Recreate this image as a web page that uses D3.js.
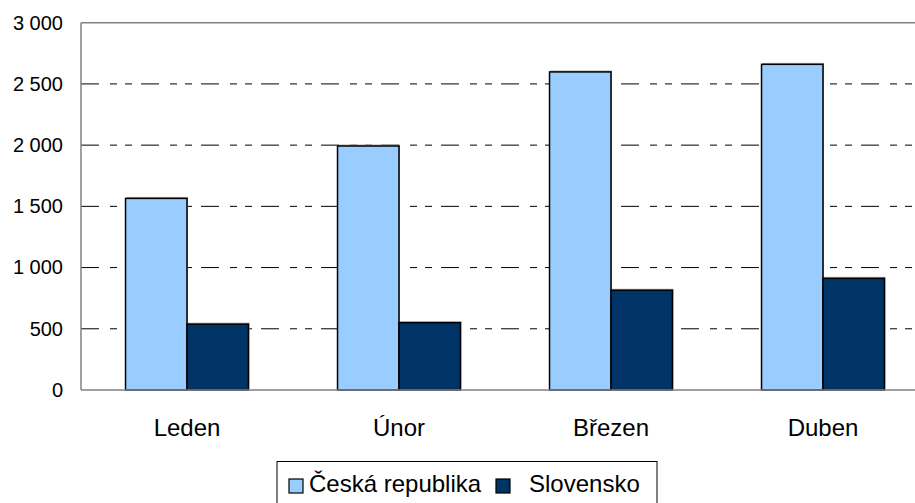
<html>
<head>
<meta charset="utf-8">
<title>Česká republika a Slovensko</title>
<script src="https://cdnjs.cloudflare.com/ajax/libs/d3/7.8.5/d3.min.js"></script>
<style>
body { margin: 0; background: #fff; }
text { font-family: "Liberation Sans", Arial, sans-serif; fill: #000; }
</style>
</head>
<body>
<svg id="chart" width="915" height="503"></svg>
<script>
var months = ['Leden', 'Únor', 'Březen', 'Duben'];
var seriesNames = ['Česká republika', 'Slovensko'];
var czValues = [1565, 1993, 2598, 2660];
var skValues = [538, 550, 815, 912];
var yTicks = [0, 500, 1000, 1500, 2000, 2500, 3000];
var colors = ['#99ccff', '#003366'];

var svg = d3.select('#chart');
var plotLeft = 81, plotRight = 929, plotTop = 22.7, plotBottom = 390;

var x = d3.scaleBand().domain(months).range([plotLeft, plotRight])
    .paddingInner(0.42).paddingOuter(0.21);
var xs = d3.scaleBand().domain(seriesNames).range([0, x.bandwidth()]);
var y = d3.scaleLinear().domain([0, 3000]).range([plotBottom, plotTop]);

var fmt = function (d) { return d3.format(',')(d).replace(',', ' '); };

// grid
svg.append('g').selectAll('line')
    .data(yTicks.filter(function (d) { return d > 0 && d < 3000; }))
    .enter().append('line')
    .attr('x1', plotLeft).attr('x2', plotRight)
    .attr('y1', function (d) { return y(d); })
    .attr('y2', function (d) { return y(d); })
    .attr('stroke', '#000').attr('stroke-width', 1)
    .attr('stroke-dasharray', '18,11,7,8,7,9');

// bars
var rows = months.map(function (m, i) {
    return { month: m, vals: [czValues[i], skValues[i]] };
});
var groups = svg.append('g').selectAll('g').data(rows).enter().append('g')
    .attr('transform', function (d) { return 'translate(' + x(d.month) + ',0)'; });
groups.selectAll('rect.shadow')
    .data(function (d) { return d.vals; })
    .enter().append('rect')
    .attr('class', 'shadow')
    .attr('x', function (d, i) { return xs(seriesNames[i]) + 1; })
    .attr('y', function (d) { return y(d) - 1.5; })
    .attr('width', xs.bandwidth())
    .attr('height', function (d) { return plotBottom - y(d); })
    .attr('fill', '#b0b0b0');
groups.selectAll('rect.bar')
    .data(function (d) { return d.vals; })
    .enter().append('rect')
    .attr('class', 'bar')
    .attr('x', function (d, i) { return xs(seriesNames[i]); })
    .attr('y', function (d) { return y(d); })
    .attr('width', xs.bandwidth())
    .attr('height', function (d) { return plotBottom - y(d); })
    .attr('fill', function (d, i) { return colors[i]; })
    .attr('stroke', '#000').attr('stroke-width', 1.5);

// frame
svg.append('line').attr('x1', plotLeft).attr('x2', 915).attr('y1', plotTop).attr('y2', plotTop)
    .attr('stroke', '#808080').attr('stroke-width', 1.5);
svg.append('line').attr('x1', plotLeft).attr('x2', plotLeft).attr('y1', plotTop).attr('y2', plotBottom)
    .attr('stroke', '#808080').attr('stroke-width', 1.5);
svg.append('line').attr('x1', plotLeft).attr('x2', 915).attr('y1', plotBottom).attr('y2', plotBottom)
    .attr('stroke', '#808080').attr('stroke-width', 1.5);

// y axis
var yAxis = d3.axisLeft(y).tickValues(yTicks).tickFormat(fmt).tickSize(0).tickPadding(18);
var yg = svg.append('g').attr('transform', 'translate(' + plotLeft + ',0)').call(yAxis);
yg.select('.domain').remove();
yg.selectAll('text').style('font-size', '20px').attr('font-family', null);

// x axis
var xAxis = d3.axisBottom(x).tickSize(0).tickPadding(29);
var xg = svg.append('g').attr('transform', 'translate(0,' + plotBottom + ')').call(xAxis);
xg.select('.domain').remove();
xg.selectAll('text').style('font-size', '24px').attr('font-family', null);

// legend
var lg = svg.append('g');
lg.append('rect').attr('x', 277).attr('y', 461.5).attr('width', 380).attr('height', 45)
    .attr('fill', '#fff').attr('stroke', '#000').attr('stroke-width', 1);
var items = [{ name: seriesNames[0], sx: 289, tx: 309 }, { name: seriesNames[1], sx: 496, tx: 529 }];
items.forEach(function (it, i) {
    lg.append('rect').attr('x', it.sx).attr('y', 479).attr('width', 14).attr('height', 14)
        .attr('fill', colors[i]).attr('stroke', '#000').attr('stroke-width', 1.2);
    lg.append('text').attr('x', it.tx).attr('y', 492).style('font-size', '24px').text(it.name);
});
</script>
</body>
</html>
